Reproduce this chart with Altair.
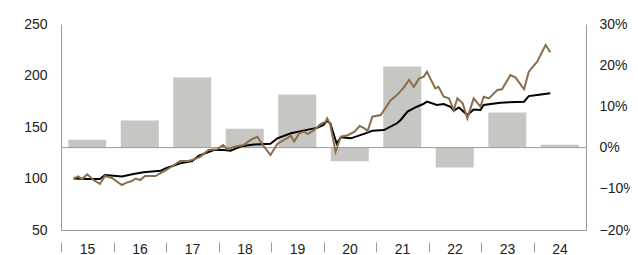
import altair as alt
import pandas as pd

# ---------------- data ----------------
years = list(range(2015, 2025))
bar_values = [0.019, 0.066, 0.170, 0.046, 0.129, -0.033, 0.197, -0.048, 0.085, 0.007]

black_t = [2015.24, 2015.5, 2015.74, 2015.84, 2016.16, 2016.38, 2016.57, 2016.9, 2017.0,
           2017.27, 2017.5, 2017.62, 2017.91, 2018.1, 2018.23, 2018.42, 2018.67, 2018.99,
           2019.12, 2019.38, 2019.57, 2019.89, 2020.0, 2020.06, 2020.13, 2020.25, 2020.33,
           2020.52, 2020.84, 2020.93, 2021.15, 2021.4, 2021.47, 2021.6, 2021.75, 2021.9,
           2021.97, 2022.16, 2022.29, 2022.42, 2022.48, 2022.58, 2022.74, 2022.86, 2022.99,
           2023.05, 2023.37, 2023.82, 2023.91, 2024.07, 2024.32]
black_v = [100, 99.5, 99.5, 103.4, 102, 104.4, 106, 107.6, 110,
           114.7, 117, 122, 127.7, 127.7, 127, 131, 133, 133.8,
           139, 143.9, 146, 149.4, 152, 156, 153.6, 134, 140,
           139, 144.5, 146.4, 147, 153.6, 156.8, 165, 169, 172.3,
           174.6, 171.4, 172.3, 169.7, 165.9, 169, 161.6, 167, 166.5,
           171.4, 173.6, 174.6, 180, 181, 182.7]

brown_t = [2015.24, 2015.33, 2015.4, 2015.5, 2015.62, 2015.74, 2015.84, 2015.97, 2016.16,
           2016.25, 2016.35, 2016.42, 2016.51, 2016.6, 2016.8, 2016.87, 2017.0, 2017.27,
           2017.43, 2017.53, 2017.65, 2017.81, 2017.97, 2018.09, 2018.17, 2018.29, 2018.48,
           2018.61, 2018.74, 2018.86, 2018.99, 2019.12, 2019.25, 2019.38, 2019.44, 2019.54,
           2019.63, 2019.7, 2019.82, 2019.95, 2020.04, 2020.07, 2020.13, 2020.23, 2020.33,
           2020.46, 2020.59, 2020.69, 2020.78, 2020.84, 2020.93, 2021.09, 2021.28, 2021.4,
           2021.53, 2021.63, 2021.72, 2021.82, 2021.91, 2021.97, 2022.13, 2022.19, 2022.29,
           2022.39, 2022.48, 2022.55, 2022.65, 2022.74, 2022.86, 2022.99, 2023.05, 2023.15,
           2023.31, 2023.4, 2023.56, 2023.66, 2023.82, 2023.91, 2024.07, 2024.23, 2024.32]
brown_v = [100, 102, 99.5, 104, 98.5, 94.7, 102.4, 100.5, 93.7,
           96, 97.5, 100, 98.5, 102.4, 102.4, 104.4, 108, 117,
           117, 118.6, 121, 127.7, 128.3, 132.5, 128.3, 130.5, 132.5,
           137.4, 140.6, 131.5, 122.8, 133.5, 137.4, 141.3, 135.8, 143.9,
           145.5, 143.2, 147, 153, 155, 158.4, 152, 126, 140.6,
           142, 145.5, 151, 148.7, 146, 160, 161.6, 176, 181,
           188.5, 195.6, 189, 197, 198.9, 203.7, 187.5, 189, 179.4,
           177.8, 166.5, 177.8, 173, 158.4, 177.8, 169.7, 179.4, 177.8,
           186, 186.6, 200.5, 198, 186.6, 203.7, 213.4, 229.6, 222.5]

# ---------------- tables ----------------
bars_df = pd.DataFrame({"year": years, "growth": bar_values})
bars_df["mid"] = bars_df["year"] + 0.5
lines_df = pd.concat([
    pd.DataFrame({"t": black_t, "v": black_v, "s": "black"}),
    pd.DataFrame({"t": brown_t, "v": brown_v, "s": "brown"}),
])
zero_df = pd.DataFrame({"x0": [years[0]], "x1": [years[-1] + 1], "y": [0.0]})

FONT = "Liberation Sans"
GRAY = "#9a9a9a"
xscale = alt.Scale(domain=[2015, 2025], nice=False, zero=False, padding=0)

x_plain = alt.Axis(title=None, labels=False, ticks=False, grid=False,
                   domain=True, domainColor=GRAY, orient="bottom")
x_years = alt.Axis(title=None, values=years, grid=False, domain=False, orient="bottom",
                   labelExpr="slice(toString(datum.value), 2)", labelOffset=26,
                   offset=12, tickSize=10, tickColor=GRAY, labelPadding=-10,
                   labelBaseline="top", labelFont=FONT, labelFontSize=14,
                   labelColor="#222222", labelFlush=False, labelOverlap=False)

yright = alt.Scale(domain=[-0.2, 0.3], nice=False, zero=False, padding=0)

bars = alt.Chart(bars_df).mark_bar(color="#c6c7c2", size=38).encode(
    x=alt.X("mid:Q", scale=xscale, axis=x_plain),
    y=alt.Y("growth:Q", scale=yright,
            axis=alt.Axis(title=None, orient="right", values=[-0.2, -0.1, 0, 0.1, 0.2, 0.3],
                          format=".0%", ticks=False, grid=False, domainColor=GRAY,
                          labelPadding=13, labelFont=FONT, labelFontSize=14,
                          labelColor="#222222", labelAlign="left")),
    y2=alt.datum(0),
)
zero = alt.Chart(zero_df).mark_rule(color=GRAY, strokeWidth=1).encode(
    x=alt.X("x0:Q", scale=xscale), x2="x1:Q", y=alt.Y("y:Q", scale=yright))

left_group = alt.layer(bars, zero)

lines = alt.Chart(lines_df).mark_line(strokeWidth=2).encode(
    x=alt.X("t:Q", scale=xscale, axis=x_years),
    y=alt.Y("v:Q", scale=alt.Scale(domain=[50, 250], nice=False, zero=False, padding=0),
            axis=alt.Axis(title=None, orient="left", values=[50, 100, 150, 200, 250],
                          ticks=False, grid=False, domainColor=GRAY, labelPadding=14,
                          labelFont=FONT, labelFontSize=14, labelColor="#222222")),
    color=alt.Color("s:N", scale=alt.Scale(domain=["black", "brown"],
                                            range=["#000000", "#8b6d4b"]), legend=None),
    order=alt.Order("t:Q"),
)

chart = alt.layer(left_group, lines).resolve_scale(y="independent").resolve_axis(
    x="independent", y="independent"
).properties(
    width=525, height=206,
    autosize=alt.AutoSizeParams(type="none"),
    padding={"left": 53, "top": 16, "right": 44, "bottom": 25},
).configure_view(stroke=None)

chart.save("out.html", embed_options={"renderer": "svg", "actions": False})
